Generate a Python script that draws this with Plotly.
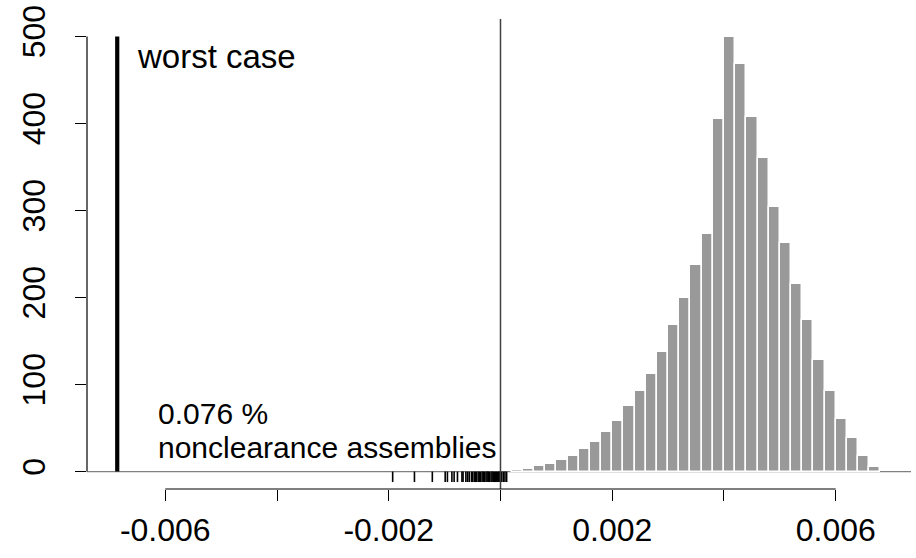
import plotly.graph_objects as go

# Histogram of clearance (density scale): bin edges every 0.0002 starting at 0.0002
bin_width = 0.0002
bin_left_edges = [round(0.0002 * k, 4) for k in range(1, 34)]
density = [2, 3, 6.5, 9, 13, 18, 26, 34, 46, 58, 75, 93, 112, 137, 169, 200,
           237, 273, 405, 499, 468, 407, 360, 304, 263, 216, 174, 128, 93, 61,
           39, 18, 5]

# Individual simulated clearances at or below zero (rug)
rug_values = [-0.00193, -0.00154, -0.00122, -0.00099, -0.00095, -0.00087,
              -0.00083, -0.00077, -0.00069, -0.00067, -0.00062, -0.00059,
              -0.00056, -0.00052, -0.00050, -0.00047, -0.00045, -0.00043,
              -0.00040, -0.00038, -0.00036, -0.00033, -0.00031, -0.00029,
              -0.00026, -0.00024, -0.00022, -0.00020, -0.00017, -0.00015,
              -0.00013, -0.00011, -0.00009, -0.00007, -0.00005, -0.00003,
              -0.00001, 0.00002, 0.00005, 0.00008, 0.00011]

worst_case = -0.00686
worst_case_top = 500

x_ticks = [-0.006, -0.004, -0.002, 0.0, 0.002, 0.004, 0.006]
x_tick_text = ["-0.006", "", "-0.002", "", "0.002", "", "0.006"]
y_ticks = [0, 100, 200, 300, 400, 500]
y_tick_text = ["0", "100", "200", "300", "400", "500"]

pct_label = "0.076 %"
nonclear_label = "nonclearance assemblies"
worst_label = "worst case"

FONT = "Liberation Sans, Arial, Helvetica, sans-serif"
FS = 32

fig = go.Figure()

centers = [e + bin_width / 2 for e in bin_left_edges]
fig.add_trace(go.Bar(
    x=centers, y=density, width=[bin_width] * len(centers),
    marker=dict(color="#999999", line=dict(color="white", width=1.5)),
    hoverinfo="skip",
))

# rug ticks hanging below the zero line
rx, ry = [], []
for v in rug_values:
    rx += [v, v, None]
    ry += [0, -12, None]
fig.add_trace(go.Scatter(x=rx, y=ry, mode="lines",
                         line=dict(color="black", width=1.6), hoverinfo="skip"))

# worst-case marker
fig.add_trace(go.Scatter(x=[worst_case, worst_case], y=[0, worst_case_top],
                         mode="lines", line=dict(color="black", width=4.2),
                         hoverinfo="skip"))

shapes = [
    # zero baseline across the plot region
    dict(type="line", xref="paper", yref="y", x0=0, x1=1, y0=0, y1=0,
         line=dict(color="#808080", width=1.3), layer="below"),
    # zero-clearance reference line
    dict(type="line", xref="x", yref="paper", x0=0, x1=0, y0=0, y1=1,
         line=dict(color="#404040", width=1.5)),
    # axis lines spanning first to last tick
    dict(type="line", xref="x", yref="paper", x0=x_ticks[0], x1=x_ticks[-1],
         y0=0, y1=0, line=dict(color="black", width=1.2)),
    dict(type="line", xref="paper", yref="y", x0=0, x1=0,
         y0=y_ticks[0], y1=y_ticks[-1], line=dict(color="black", width=1.2)),
]

annotations = [
    dict(x=-0.00655, y=477, xref="x", yref="y", text=worst_label,
         showarrow=False, xanchor="left", yanchor="middle",
         font=dict(family=FONT, size=FS + 1, color="black")),
    dict(x=-0.00616, y=67, xref="x", yref="y", text=pct_label,
         showarrow=False, xanchor="left", yanchor="middle",
         font=dict(family=FONT, size=FS - 2, color="black")),
    dict(x=-0.00616, y=28, xref="x", yref="y", text=nonclear_label,
         showarrow=False, xanchor="left", yanchor="middle",
         font=dict(family=FONT, size=FS - 2, color="black")),
]

fig.update_layout(
    width=916, height=558,
    margin=dict(l=87, r=5, t=17, b=69, pad=0),
    paper_bgcolor="white", plot_bgcolor="white",
    showlegend=False, bargap=0,
    shapes=shapes, annotations=annotations,
    font=dict(family=FONT, size=FS, color="black"),
)
fig.update_xaxes(
    range=[-0.007401, 0.0073475], showgrid=False, zeroline=False,
    showline=False, ticks="outside", ticklen=11, tickwidth=1.2,
    tickcolor="black", tickvals=x_ticks, ticktext=x_tick_text,
    tickfont=dict(family=FONT, size=FS), ticklabelstandoff=2,
)
fig.update_yaxes(
    range=[-20, 520], showgrid=False, zeroline=False, showline=False,
    ticks="outside", ticklen=11, tickwidth=1.2, tickcolor="black",
    tickvals=y_ticks, ticktext=y_tick_text, tickangle=-90,
    tickfont=dict(family=FONT, size=FS), ticklabelstandoff=17,
)

fig.write_html("out.html")
